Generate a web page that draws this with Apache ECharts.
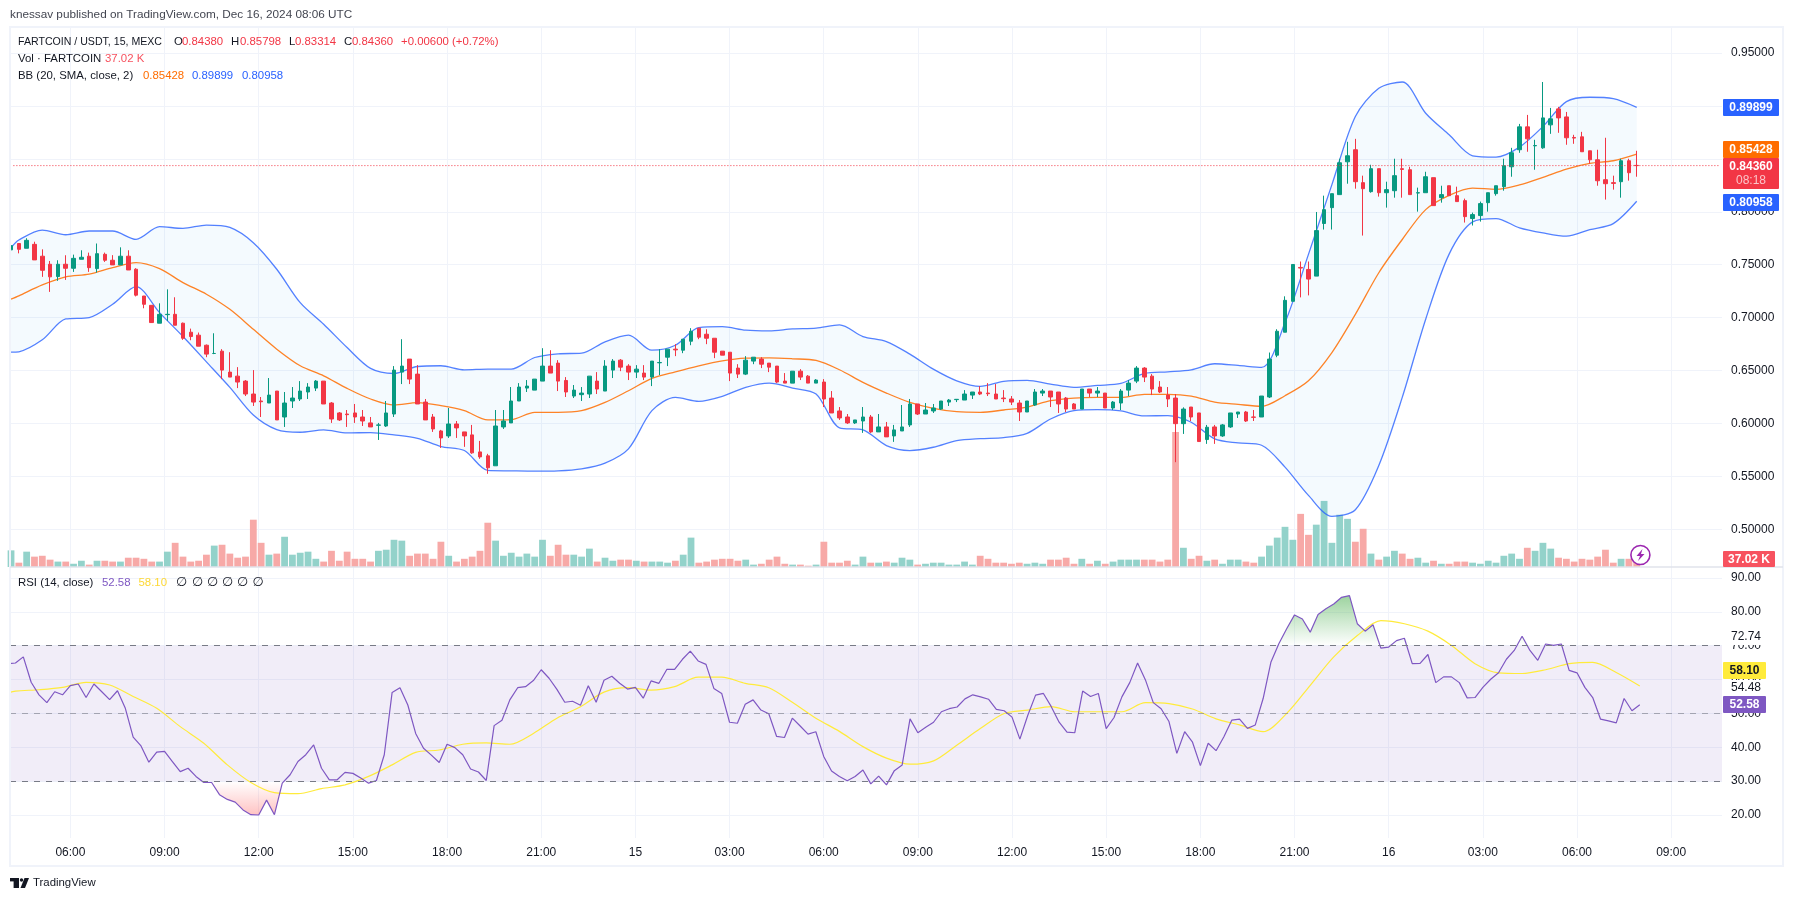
<!DOCTYPE html>
<html><head><meta charset="utf-8">
<style>html,body{margin:0;padding:0;background:#fff}#c{width:1794px;height:901px}</style>
<script src="https://cdn.jsdelivr.net/npm/echarts@6/dist/echarts.min.js"></script>
</head><body><div id="c"></div>
<script>
// 15-minute bars, first bar 2024-12-14 04:00 UTC
const firstBar = Date.UTC(2024,11,14,4,0);
const barMs = 15*60000;

const opens = [.764,
.770,.7655,.7692,.758,.7504,.7388,.7504,.7466,.7551,.758,
.7463,.7598,.7542,.7498,.758,.7457,.7204,.7116,.6947,.7028,
.7031,.6947,.6862,.6834,.6739,.6661,.6683,.6485,.6447,.64,
.6278,.6212,.6193,.6306,.6061,.6212,.6231,.6297,.6334,.64,
.6193,.6099,.6089,.6099,.6061,.6005,.5983,.5976,.6089,.6485,
.6608,.6466,.6202,.6061,.5929,.5882,.5995,.592,.5892,.5731,
.5694,.56,.5967,.6005,.6212,.6334,.6315,.64,.6542,.657,
.6406,.6259,.6272,.6278,.64,.6306,.6504,.6598,.6542,.6485,
.6476,.6438,.6573,.6626,.6702,.6692,.6777,.69,.6843,.6805,
.6683,.6673,.6523,.6466,.6589,.6608,.657,.6542,.64,.6381,
.6494,.6447,.6381,.6391,.624,.6118,.6061,.6005,.6023,.6061,
.592,.5967,.5882,.5929,.5986,.6184,.6089,.6118,.6136,.6202,
.6225,.6221,.6268,.6297,.6287,.6278,.624,.6231,.6193,.6108,
.6174,.6287,.6306,.6297,.624,.6184,.6136,.6325,.6287,.6287,
.6146,.6193,.6315,.64,.6523,.6447,.6344,.6268,.624,.5998,
.6155,.6099,.5848,.5967,.5882,.5967,.6089,.6108,.6061,.6061,
.625,.6645,.6862,.7154,.7474,.7455,.7392,.7889,.8039,.8162,
.8472,.8586,.8275,.819,.8407,.818,.8199,.8407,.8397,.8177,
.818,.8322,.8133,.8246,.8152,.8105,.7936,.7964,.8086,.8171,
.8237,.8425,.8586,.8802,.8623,.8604,.8821,.8972,.8896,.8702,
.8708,.8576,.8491,.8303,.8275,.8284,.8482,.8438];
const closes = [.768,
.7645,.773,.7545,.7447,.7385,.7504,.7466,.756,.757,.7472,
.7604,.7542,.7498,.758,.745,.7212,.7126,.6953,.7031,.7031,
.6928,.6805,.6821,.673,.6655,.6661,.6504,.6438,.6391,.6278,
.6202,.6205,.6268,.6033,.6193,.624,.6306,.6344,.64,.6184,
.6042,.6033,.6083,.6061,.6023,.5967,.5986,.6099,.6504,.6542,
.6419,.6184,.6033,.5948,.5863,.5995,.5958,.5882,.5722,.5684,
.5581,.5976,.6023,.6212,.6344,.6353,.6419,.6542,.6476,.64,
.6297,.6315,.6287,.6447,.6325,.6542,.6589,.6532,.6485,.6513,
.6438,.6589,.6576,.6702,.6695,.6796,.6871,.6815,.6805,.6673,
.6645,.6476,.6466,.6598,.6626,.656,.6532,.6391,.6381,.6494,
.6438,.6381,.641,.6231,.6099,.6052,.6005,.6033,.6061,.592,
.5967,.5873,.5939,.5967,.6184,.6089,.6127,.6146,.6212,.6221,
.6228,.6278,.6297,.6278,.6281,.6231,.6234,.6202,.6108,.6212,
.6297,.6306,.625,.6184,.6136,.6136,.6325,.6287,.6306,.6146,
.6202,.6306,.6381,.6523,.6438,.6325,.6297,.6231,.5998,.6136,
.6061,.5829,.5964,.5882,.5986,.6099,.6108,.6023,.6058,.6259,
.6608,.6871,.7163,.7502,.7468,.7364,.7822,.802,.8171,.8463,
.8529,.8284,.8218,.8407,.818,.8209,.8341,.84,.8162,.818,
.8331,.8058,.8162,.8152,.8096,.7954,.7973,.8077,.818,.8246,
.8435,.8557,.8802,.8689,.8626,.8887,.8878,.8887,.8699,.8696,
.8567,.8491,.8293,.8265,.8268,.8482,.8369,.8436];
const highs = [.770,
.770,.775,.7717,.7645,.7535,.7542,.7589,.7595,.7636,.7614,
.770,.7614,.759,.7664,.7636,.7467,.7204,.7116,.7135,.7267,
.7192,.6953,.6896,.6859,.6746,.6852,.6702,.6673,.6532,.641,
.6504,.625,.6429,.6306,.6297,.6344,.64,.6381,.641,.64,
.6202,.6108,.6127,.6184,.6127,.6061,.6005,.6212,.6542,.6796,
.6608,.6551,.6231,.6089,.5939,.6146,.6023,.592,.5986,.5835,
.5713,.6127,.6127,.6344,.6381,.641,.6419,.6711,.6692,.6598,
.6438,.6363,.6344,.6447,.6485,.6598,.6608,.6608,.656,.6551,
.6551,.6589,.6702,.6702,.6749,.6796,.69,.69,.689,.6805,
.6683,.6673,.656,.6636,.6626,.6626,.657,.6542,.6476,.6494,
.6513,.6457,.6419,.6419,.6306,.6155,.6089,.6033,.6155,.608,
.6089,.6014,.5986,.6174,.6231,.6184,.6193,.6184,.6212,.6231,
.6231,.6315,.6297,.6353,.6381,.6372,.6315,.6259,.6221,.6212,
.6325,.6325,.6306,.6297,.625,.6193,.6325,.6325,.6344,.6287,
.6212,.6325,.641,.6542,.6532,.6466,.64,.6344,.6278,.6152,
.6155,.6099,.5986,.5986,.5995,.6099,.6108,.6118,.6127,.6259,
.667,.689,.7201,.7502,.753,.753,.7998,.8152,.8171,.8501,
.8661,.8689,.8341,.8444,.8407,.8284,.8501,.8501,.8425,.8228,
.8378,.8322,.8246,.8246,.8237,.8124,.7992,.8096,.818,.8246,
.8501,.8604,.883,.8915,.868,.9226,.8981,.8991,.8943,.8727,
.8755,.8576,.8586,.8699,.8341,.8501,.8501,.8576];
const lows = [.762,
.7607,.7655,.7545,.7385,.7243,.7347,.7356,.7432,.7551,.7432,
.7425,.7526,.7498,.7498,.745,.72,.7088,.695,.6947,.6969,
.6928,.679,.6786,.673,.6626,.6655,.6419,.6438,.6334,.6259,
.6165,.6061,.6193,.6033,.5967,.6146,.6212,.6231,.6306,.6184,
.6005,.6023,.5967,.6005,.5976,.5967,.5844,.5967,.6061,.6372,
.6372,.6184,.6033,.592,.5769,.5863,.5863,.5779,.5713,.5666,
.5524,.56,.5948,.6005,.6212,.6297,.6315,.64,.6476,.6306,
.625,.624,.6212,.624,.6278,.6306,.6429,.6494,.641,.6429,
.641,.6353,.6457,.6542,.6636,.6664,.6739,.6796,.6749,.6617,
.6645,.64,.6429,.6457,.656,.6523,.6485,.6381,.6381,.6381,
.641,.6381,.6381,.6155,.6099,.6033,.5995,.5995,.5911,.5911,
.592,.5873,.5826,.5929,.5967,.608,.6089,.6099,.6127,.6165,
.6202,.6221,.6231,.6268,.6259,.6231,.6202,.6174,.6023,.6108,
.6165,.6259,.6155,.6099,.6108,.6136,.6136,.625,.625,.6146,
.6127,.6127,.6259,.6381,.6391,.6268,.6287,.6155,.5634,.5901,
.6023,.5829,.5807,.5807,.5873,.5958,.6052,.6014,.6023,.6061,
.624,.6626,.6862,.7154,.7191,.721,.7392,.7832,.7832,.8162,
.8265,.8218,.7775,.818,.8143,.8039,.8133,.8133,.8162,.8001,
.818,.8058,.8086,.8152,.8096,.7898,.787,.7907,.8001,.8152,
.8199,.8331,.8557,.8567,.8397,.8595,.8736,.8746,.8633,.8642,
.8567,.8454,.8246,.8115,.8209,.8133,.8294,.8331];
const volumesK = [77,
20,71,48,52,34,25,25,15,29,11,
29,29,25,25,43,43,38,25,25,71,
112,48,25,29,57,99,103,62,43,48,
219,112,57,62,140,57,66,71,38,25,
75,29,71,38,38,25,75,80,126,122,
52,62,62,38,117,52,25,38,48,75,
205,122,52,66,48,62,48,126,52,103,
57,57,48,85,25,43,29,34,34,29,
25,25,25,20,29,57,136,20,25,34,
38,38,29,34,11,15,34,48,15,11,
11,6,11,117,20,20,29,11,48,20,
20,25,20,43,34,11,15,20,20,11,
11,25,11,52,38,20,20,15,20,15,
20,15,34,34,43,15,38,15,29,15,
25,34,34,34,34,34,25,34,625,89,
38,52,29,34,15,34,34,25,20,48,
99,136,186,126,246,149,196,306,112,242,
223,117,177,62,34,48,75,62,38,43,
20,29,15,15,25,25,20,15,29,20,
52,62,38,89,75,112,85,43,38,25,
38,34,48,80,20,38,38,37.02];
const rsiValues = [64.7,
64.9,66.7,59.2,55.5,53.2,56.4,55.5,58.2,58.7,54.7,
58.7,56.4,54.1,56.7,51.5,43,40.4,35.6,38.6,38.8,
35.8,32.8,33.8,31.4,29.6,29.6,26,24.6,23.8,21.5,
20.1,20,24.4,20.1,29.4,31.9,35.8,37.8,40.7,33.8,
30.4,30.4,32.6,32.3,30.9,29.4,30.2,37.8,56.2,57.6,
52.5,44.1,39.7,37.7,35.5,40.9,39.9,37.8,33.6,32.7,
30.2,46.4,48,54,57.6,57.9,59.7,62.9,60.4,57.1,
53.3,53.6,52.4,58.2,53.3,59.8,61,58.9,57.2,57.7,
54.5,59.6,58.9,63,63,66,68.4,65.5,64.5,57.4,
55.9,47.4,47.1,52.7,54,51,49.9,43.2,42.9,48.6,
46.3,43.9,44.6,37.3,33,31.4,30.1,31.4,33.3,29.2,
31.5,28.9,33.1,34.8,48.4,44.3,45.9,47.4,50.5,51.4,
51.9,54.3,55.5,54.9,54.2,51.2,50.8,48.9,42.4,49.4,
55.4,55.9,52,47.4,44.5,44.3,56.6,55,55.9,45.5,
48.8,54.9,59.1,64.9,59.9,53.2,51.4,47.6,38.2,44.6,
41.5,34.6,41.2,39,43.1,48,48.3,45.6,46.6,54.4,
65.2,70.6,75,79.1,77.9,74,79.2,80.9,82.3,84.3,
84.8,76.5,74.3,76.2,69.3,69.6,71.5,72.2,64.7,64.8,
67.4,59.1,60.8,60.8,59.1,54.6,54.7,57.7,60.1,62,
66,68.6,72.8,68.6,65.7,70.5,70.1,70.5,62.7,62,
57.7,54.7,48.3,47.8,47.2,54.4,50.8,52.58];

// Bollinger bands and RSI average were read every third bar (bar number, counted from 04:00)
const sampledBars = [0,1,4,7,10,13,16,19,22,25,28,31,34,37,40,43,46,49,52,55,58,61,64,67,70,73,76,79,82,85,88,91,94,97,100,103,106,109,112,115,118,121,124,127,130,133,136,139,142,145,148,151,154,157,160,163,166,169,172,175,178,181,184,187,190,193,196,199,202,205,208];
const bbUpper = [.766,.7733,.7827,.7783,.7818,.7818,.7739,.7859,.7843,.7874,.7852,.7708,.7457,.7141,.6937,.6717,.652,.6472,.6538,.6545,.6507,.6513,.6513,.6623,.6658,.6664,.6771,.6834,.6692,.6739,.6906,.6915,.6881,.6874,.6893,.69,.6931,.6821,.6774,.6655,.6513,.6403,.635,.6397,.6407,.6372,.6341,.6359,.6378,.6472,.6488,.6507,.6564,.6548,.6529,.6953,.7597,.8256,.89,.9166,.9226,.8931,.8727,.8529,.8516,.8611,.8805,.9041,.9082,.9069,.8987];
const bbMid = [.7174,.7206,.7309,.7385,.741,.7472,.752,.7463,.7331,.7221,.7078,.689,.6702,.6545,.645,.6331,.6231,.6174,.6196,.6168,.6121,.6033,.6036,.6105,.6105,.6121,.6199,.6309,.6425,.6488,.6545,.6592,.6617,.662,.6611,.6595,.6507,.6388,.6287,.6199,.6143,.6111,.6105,.6127,.6155,.6215,.624,.6246,.6246,.6275,.6275,.6259,.6202,.618,.6162,.6262,.6403,.667,.7031,.7424,.7738,.802,.8155,.8224,.8212,.8253,.8325,.8403,.8457,.8482,.8545];
const bbLower = [.6673,.6677,.679,.6987,.70,.7126,.7292,.7047,.6821,.6582,.6341,.608,.5942,.5917,.5939,.591,.5914,.5892,.586,.5782,.5744,.5556,.5552,.5549,.5552,.5571,.5625,.576,.6121,.6246,.6209,.6256,.6341,.6381,.6334,.6278,.5958,.5939,.5791,.5744,.5775,.5838,.5857,.5866,.5907,.6042,.6121,.613,.6118,.6071,.6074,.6011,.5854,.5816,.5794,.5587,.532,.5122,.5185,.5603,.6246,.6985,.76,.7904,.7936,.7848,.78,.7769,.7831,.7888,.8099];
const rsiAverage = [56,56.6,57,57.7,59.2,58.4,55,51.5,46.1,41.2,34.8,29.6,26.6,26.3,27.8,28.9,31.4,34.8,38.5,39.2,40.9,41.3,40.9,44.1,48.6,52,56.3,57.6,56.9,57.9,60.7,60.7,58.9,57.6,53.3,48.6,44.7,40.2,36.8,35,36,40.7,45.6,50,51,52,50.5,50.5,50.5,53.2,52.9,51.3,48.4,46.6,44.6,50,58.3,66.7,73,77.4,76.5,74.3,70.1,64.7,62,61.8,62.9,64.7,65.1,62.1,58.1];

const lastClose = 0.8436;
const rsiLevels = {high:70, mid:50, low:30};

const UP='#089981', DOWN='#f23645', GRID='#f0f3fa', TXT='#131722', FONT='"Liberation Sans",Arial,sans-serif';
const times = opens.map((_,i)=>firstBar+i*barMs);
const pairs = (bars,vals)=>bars.map((b,i)=>[times[b],vals[i]]);
const bbBand = bbUpper.map((u,i)=>+(u-bbLower[i]).toFixed(4));

const pxPerBar = 7.847;
const axisMin = firstBar + (10-7.62)/pxPerBar*barMs;
const axisMax = axisMin + 1712/pxPerBar*barMs;
// Helper time ruler counted in three-hour steps from 14 Dec 00:00, so its ticks fall on 00, 03, 06...
const rulerStart = Date.UTC(2024,11,14,0,0), rulerStep = 3*3600000;
const rulerMin = (axisMin-rulerStart)/rulerStep, rulerMax = (axisMax-rulerStart)/rulerStep;
const pad = n=>String(n).padStart(2,'0');
const timeFmt = v=>{const d=new Date(rulerStart+Math.round(v)*rulerStep);
  if(Math.abs(v-Math.round(v))>1e-6) return '';
  return d.getUTCHours()===0?String(d.getUTCDate()):pad(d.getUTCHours())+':00';};

function T(x,y,text,fill,opt){return Object.assign({type:'text',z:50,silent:true,style:Object.assign({x,y,text,fill:fill||TXT,font:'11.4px '+FONT,textVerticalAlign:'middle',textAlign:'left'},opt||{})});}
function R(x,y,w,h,fill,r){return {type:'rect',z:49,silent:true,shape:{x,y,width:w,height:h,r:r||0},style:{fill}};}

const legendRows = [
 ['O',174,42,TXT],['0.84380',182,42,DOWN],['H',231,42,TXT],['0.85798',240,42,DOWN],
 ['L',289,42,TXT],['0.83314',295,42,DOWN],['C',344,42,TXT],['0.84360',352,42,DOWN],
 ['+0.00600 (+0.72%)',401,42,DOWN],
 ['Vol · FARTCOIN',18,59,TXT],['37.02 K',105,59,'#f7525f'],
 ['BB (20, SMA, close, 2)',18,76,TXT],['0.85428',143,76,'#ff6d00'],['0.89899',192,76,'#2962ff'],['0.80958',242,76,'#2962ff'],
 ['RSI (14, close)',18,583,TXT],['52.58',102,583,'#7e57c2'],['58.10',138.5,583,'#fdd835'],
 ['TradingView',33,883,'#131722']
];
const nullMarks = [176,192,207,222,237,252.5];
const boxes = [
 [1723,99,56,17,'#2962ff','0.89899','#fff'],
 [1723,141,56,17,'#ff6d00','0.85428','#fff'],
 [1723,194,56,17,'#2962ff','0.80958','#fff'],
 [1723,551,52,16,'#f7525f','37.02 K','#fff'],
 [1723,662,43,17,'#ffeb3b','58.10','#131722'],
 [1723,696,43,17,'#7e57c2','52.58','#fff']
];
const graphics = [];
graphics.push({type:'rect',z:40,silent:true,shape:{x:10,y:27,width:1773,height:839},style:{fill:'none',stroke:'#f0f3fa',lineWidth:2}});
graphics.push({type:'line',z:41,silent:true,shape:{x1:10,y1:567,x2:1783,y2:567},style:{stroke:'#e0e3eb',lineWidth:1.5}});
graphics.push(R(1723,629,43,16,'#fff'),R(1723,680,43,16,'#fff'));
graphics.push(T(1731,637,'72.74',TXT,{font:'12px '+FONT}),T(1731,688,'54.48',TXT,{font:'12px '+FONT}));
boxes.forEach(b=>{graphics.push(R(b[0],b[1],b[2],b[3],b[4],1));
  graphics.push(T(b[0]+b[2]/2,b[1]+b[3]/2+.5,b[5],b[6],{textAlign:'center',font:'bold 12px '+FONT}));});
graphics.push(R(1723,158,56,31,'#f23645',1));
graphics.push(T(1751,167,'0.84360','#fff',{textAlign:'center',font:'bold 12px '+FONT}),T(1751,181,'08:18','#fbc4c8',{textAlign:'center',font:'12px '+FONT}));
graphics.push(T(10,15,'knessav published on TradingView.com, Dec 16, 2024 08:06 UTC','#434651',{font:'11.75px '+FONT}));
graphics.push(T(18,42,'FARTCOIN / USDT, 15, MEXC',TXT,{font:'10.6px '+FONT}));
legendRows.forEach(r=>graphics.push(T(r[1],r[2],r[0],r[3])));
nullMarks.forEach(x=>graphics.push(T(x,583,'∅',TXT,{font:'13px "DejaVu Sans",'+FONT})));
// TradingView mark
graphics.push(R(10,878,9,3.4,'#131722'),R(13.6,878,5.4,10,'#131722'));
graphics.push({type:'circle',z:49,silent:true,shape:{cx:21.5,cy:880,r:1.7},style:{fill:'#131722'}});
graphics.push({type:'polygon',z:49,silent:true,shape:{points:[[24.5,878],[29,878],[25,888],[20.5,888]]},style:{fill:'#131722'}});
// lightning badge at the last bar
graphics.push({type:'circle',z:52,silent:true,shape:{cx:1640.4,cy:555,r:9.5},style:{fill:'#fff',stroke:'#9c27b0',lineWidth:1.6}});
graphics.push({type:'polygon',z:53,silent:true,shape:{points:[[1642.5,549],[1636.5,556],[1640,556],[1638,561],[1644.5,554],[1641,554]]},style:{fill:'#9c27b0'}});

const chart = echarts.init(document.getElementById('c'),null,{renderer:'canvas'});
const noLine=()=>({width:0,opacity:0});
const dataX = g=>({type:'time',gridIndex:g,min:axisMin,max:axisMax,show:false});
const ruler = (g,lab)=>({type:'value',gridIndex:g,position:'bottom',min:rulerMin,max:rulerMax,splitNumber:18,scale:true,
  axisTick:{show:false},axisLine:{show:false},
  axisLabel:lab?{show:true,color:TXT,fontSize:12,fontFamily:FONT,margin:9,showMinLabel:false,showMaxLabel:false,formatter:timeFmt}:{show:false},
  splitLine:{show:true,showMinLine:false,showMaxLine:false,lineStyle:{color:GRID,width:1}}});

chart.setOption({
 animation:false,useUTC:true,backgroundColor:'#fff',
 textStyle:{fontFamily:FONT},
 graphic:graphics,
 grid:[{left:10,right:72,top:27,height:540},{left:10,right:72,top:567,height:271}],
 xAxis:[dataX(0),dataX(1),ruler(0,false),ruler(1,true)],
 yAxis:[
  {type:'value',gridIndex:0,position:'right',min:0.46437,max:0.97456,splitNumber:10,scale:true,
   axisLine:{show:false},axisTick:{show:false},
   axisLabel:{color:TXT,fontSize:12,fontFamily:FONT,margin:9,padding:[2,0,0,0],showMinLabel:false,showMaxLabel:false,formatter:v=>v.toFixed(5)},
   splitLine:{show:true,showMinLine:false,showMaxLine:false,lineStyle:{color:GRID}}},
  {type:'value',gridIndex:0,min:0,max:2500,show:false,splitLine:{show:false}},
  {type:'value',gridIndex:1,position:'right',min:13.21,max:93.25,splitNumber:8,scale:true,
   axisLine:{show:false},axisTick:{show:false},
   axisLabel:{color:TXT,fontSize:12,fontFamily:FONT,margin:9,showMinLabel:false,showMaxLabel:false,formatter:v=>v.toFixed(2)},
   splitLine:{show:true,showMinLine:false,showMaxLine:false,lineStyle:{color:GRID}}}
 ],
 series:[
  {name:'Volume',type:'bar',xAxisIndex:0,yAxisIndex:1,barWidth:6.8,z:1,
   data:volumesK.map((v,i)=>({value:[times[i],v],itemStyle:{color:closes[i]>=opens[i]?'#93d2ca':'#f7a9a7'}}))},
  {name:'bbBase',type:'line',xAxisIndex:0,yAxisIndex:0,stack:'bb',symbol:'none',smooth:.3,lineStyle:noLine(),z:2,data:pairs(sampledBars,bbLower)},
  {name:'bbFill',type:'line',xAxisIndex:0,yAxisIndex:0,stack:'bb',symbol:'none',smooth:.3,lineStyle:noLine(),z:2,areaStyle:{color:'rgba(33,150,243,0.05)',opacity:1},data:pairs(sampledBars,bbBand)},
  {name:'Upper',type:'line',xAxisIndex:0,yAxisIndex:0,symbol:'none',smooth:.3,z:3,lineStyle:{color:'#2962ff',width:1.3,opacity:.8},data:pairs(sampledBars,bbUpper)},
  {name:'Lower',type:'line',xAxisIndex:0,yAxisIndex:0,symbol:'none',smooth:.3,z:3,lineStyle:{color:'#2962ff',width:1.3,opacity:.8},data:pairs(sampledBars,bbLower)},
  {name:'Basis',type:'line',xAxisIndex:0,yAxisIndex:0,symbol:'none',smooth:.3,z:3,lineStyle:{color:'#ff6d00',width:1.3,opacity:.85},data:pairs(sampledBars,bbMid)},
  {name:'Price',type:'candlestick',xAxisIndex:0,yAxisIndex:0,barWidth:4,z:4,
   itemStyle:{color:UP,color0:DOWN,borderColor:UP,borderColor0:DOWN,borderWidth:1},
   encode:{x:0,y:[1,2,3,4]},
   data:times.map((t,i)=>[t,opens[i],closes[i],lows[i],highs[i]])},
  {name:'Last price',type:'line',xAxisIndex:0,yAxisIndex:0,symbol:'none',z:5,lineStyle:{color:DOWN,type:[1,2],width:1},
   data:[[axisMin,lastClose],[axisMax,lastClose]]},
  {name:'RSI band',type:'line',xAxisIndex:1,yAxisIndex:2,symbol:'none',z:1,lineStyle:noLine(),data:times.map(t=>[t,rsiLevels.mid]),
   markArea:{silent:true,itemStyle:{color:'rgba(126,87,194,0.11)'},data:[[{yAxis:rsiLevels.high},{yAxis:rsiLevels.low}]]},
   markLine:{silent:true,symbol:'none',label:{show:false},data:[
     {yAxis:rsiLevels.high,lineStyle:{color:'#787b86',type:[6,6],width:1}},
     {yAxis:rsiLevels.mid,lineStyle:{color:'rgba(120,123,134,0.6)',type:[6,6],width:1}},
     {yAxis:rsiLevels.low,lineStyle:{color:'#787b86',type:[6,6],width:1}}]}},
  {name:'over',type:'line',xAxisIndex:1,yAxisIndex:2,symbol:'none',z:2,lineStyle:noLine(),
   areaStyle:{origin:rsiLevels.high,opacity:1,color:new echarts.graphic.LinearGradient(0,0,0,1,[{offset:0,color:'rgba(76,175,80,0.55)'},{offset:1,color:'rgba(76,175,80,0)'}])},
   data:times.map((t,i)=>[t,Math.max(rsiValues[i],rsiLevels.high)])},
  {name:'under',type:'line',xAxisIndex:1,yAxisIndex:2,symbol:'none',z:2,lineStyle:noLine(),
   areaStyle:{origin:rsiLevels.low,opacity:1,color:new echarts.graphic.LinearGradient(0,0,0,1,[{offset:0,color:'rgba(255,82,82,0)'},{offset:1,color:'rgba(255,82,82,0.35)'}])},
   data:times.map((t,i)=>[t,Math.min(rsiValues[i],rsiLevels.low)])},
  {name:'RSI MA',type:'line',xAxisIndex:1,yAxisIndex:2,symbol:'none',smooth:.3,z:3,lineStyle:{color:'#ffeb3b',width:1.2},data:pairs(sampledBars,rsiAverage)},
  {name:'RSI',type:'line',xAxisIndex:1,yAxisIndex:2,symbol:'none',z:4,lineStyle:{color:'#7e57c2',width:1.2},data:times.map((t,i)=>[t,rsiValues[i]])}
 ]
});
</script></body></html>
